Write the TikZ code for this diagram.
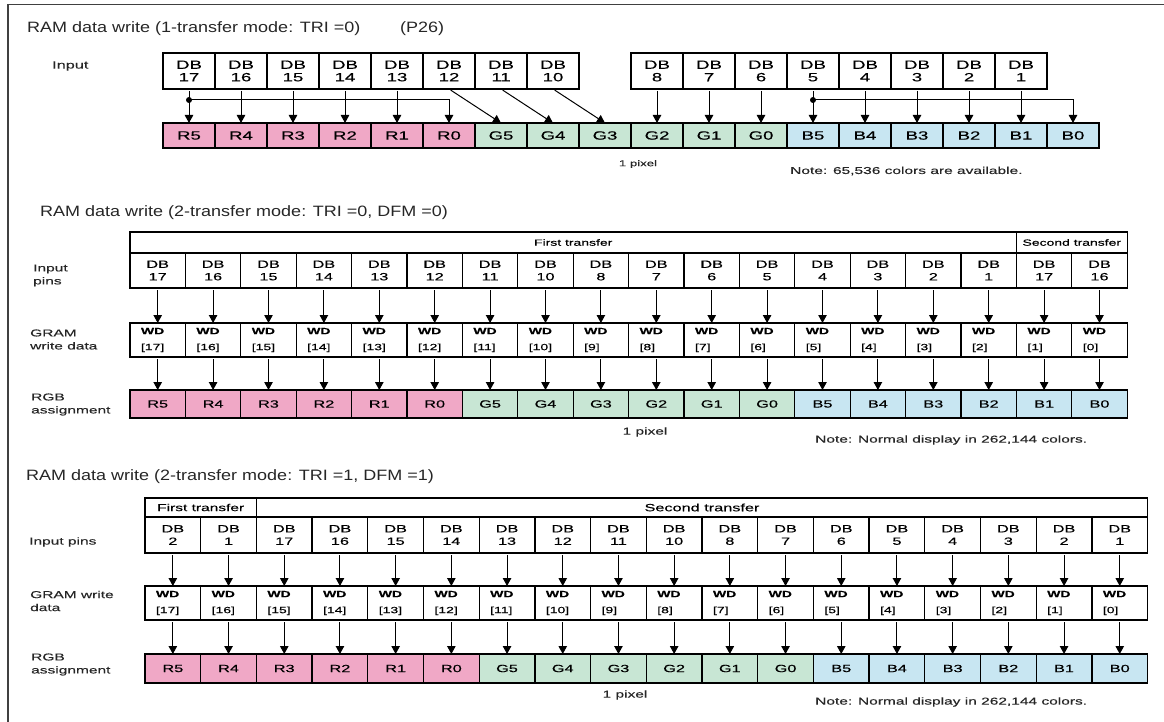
\documentclass[tikz,border=0pt]{standalone}
\usepackage{fontspec}
\setmainfont{Liberation Sans}
\newfontfamily\titlefont[FakeStretch=1.2]{Liberation Sans}
\newfontfamily\widefont[FakeStretch=1.55,FakeBold=0.3]{Liberation Sans}
\usetikzlibrary{arrows.meta,
                positioning}

\definecolor{redcell}{RGB}{240,168,198}
\definecolor{greencell}{RGB}{200,230,212}
\definecolor{bluecell}{RGB}{200,230,242}

\begin{document}
\begin{tikzpicture}%
            [x = 1pt, y = -1pt,
             box/.style = {draw, line width = 1.3pt, inner sep = 0pt, outer sep = 0pt, align = center},
             arr/.style = {-{Triangle[width = 8.5pt, length = 8pt]}, line width = 1pt, shorten < = 2pt},
             title/.style = {anchor = west, inner sep = 0pt, text = black!85, font = \titlefont\fontsize{15}{17}\selectfont},
             lab/.style = {anchor = west, inner sep = 0pt, align = left, text = black!85, font = \widefont\fontsize{10}{13}\selectfont},
             note/.style = {inner sep = 0pt, text = black!85, font = \widefont\fontsize{10}{12}\selectfont},
             pin/.style = {box, font = \widefont\fontsize{10.5}{12.5}\selectfont},
             wd/.style = {box, align = left, text width = #1, font = \widefont\fontsize{9}{16}\selectfont},
             hdr/.style = {box, font = \widefont\fontsize{9}{10}\selectfont}]
            \useasboundingbox (0,0) rectangle (1164,722);
            \draw [line width = 1.5pt, black!75] (8,722) -- (8,4.5) -- (1164,4.5);

            \foreach \s/\xo/\w/\yc/\h/\fs in {1/163/52/135.5/25/12, 2/130/55.4/404/28/10.5, 3/145/55.7/668.5/29/10.5}
              \foreach \col/\ch [count=\g from 0] in {redcell/R, greencell/G, bluecell/B}
                \foreach \n [count=\k from 0] in {5,4,...,0} {
                  \pgfmathtruncatemacro{\i}{6*\g+\k}
                  \node [box, fill = \col, minimum width = {\w*1pt}, minimum height = {\h*1pt},
                         font = \widefont\fontsize{\fs}{\fs}\selectfont] (rgb\s-\i) at ({\xo+(\i+0.5)*\w}, \yc) {\ch\n};
                }

            \node [title] (title1) at (27,29) {RAM data write (1-transfer mode: TRI =0)};
            \node [title] (page1) at (400,29) {(P26)};
            \node [lab, font = \widefont\fontsize{10.5}{13}\selectfont] (input1) at (52,66) {Input};
            \foreach \n [count=\i from 0] in {17,16,15,14,13,12,11,10}
              \node [pin, minimum width = 52pt, minimum height = 36pt, font = \widefont\fontsize{12}{12.5}\selectfont] (top1-\i) at ({163+(\i+0.5)*52}, 71) {DB\\\n};
            \foreach \n [count=\i from 9] in {8,7,6,5,4,3,2,1}
              \node [pin, minimum width = 52pt, minimum height = 36pt, font = \widefont\fontsize{12}{12.5}\selectfont] (top1-\i) at ({163+(\i+0.5)*52}, 71) {DB\\\n};
            \foreach \i in {0,1,2,3,4,9,10,11,12,13,14,15,16}
              \draw [arr] (top1-\i) -- (rgb1-\i);
            \foreach \i/\j in {5/6, 6/7, 7/8}
              \draw [arr] (top1-\i.south) -- (rgb1-\j.north);
            \path (top1-0.south) ++(0,11) coordinate (forkR);
            \path (top1-12.south) ++(0,11) coordinate (forkB);
            \fill (forkR) circle (3pt);
            \fill (forkB) circle (3pt);
            \draw [arr] (forkR) -| (rgb1-5);
            \draw [arr] (forkB) -| (rgb1-17);
            \node [note, font = \widefont\fontsize{8.5}{10}\selectfont] (pixel1) at (638,164) {1 pixel};
            \node [note, anchor = west] (colors1) at (790,171) {Note: 65,536 colors are available.};

            \node [title] (title2) at (40,213) {RAM data write (2-transfer mode: TRI =0, DFM =0)};
            \node [hdr, minimum width = {16*55.4pt}, minimum height = 21pt] (first2) at ({130+8*55.4}, 242.5) {First transfer};
            \node [hdr, minimum width = {2*55.4pt}, minimum height = 21pt] (second2) at ({130+17*55.4}, 242.5) {Second transfer};
            \foreach \n [count=\i from 0] in {17,16,15,14,13,12,11,10,8,7,6,5,4,3,2,1,17,16}
              \node [pin, minimum width = 55.4pt, minimum height = 35pt] (pin2-\i) at ({130+(\i+0.5)*55.4}, 270.5) {DB\\\n};
            \foreach \n [count=\i from 0] in {17,16,...,0}
              \node [wd = 33.4pt, minimum width = 55.4pt, minimum height = 34pt] (wd2-\i) at ({130+(\i+0.5)*55.4}, 340) {{\bfseries WD}\\{[\n]}};
            \foreach \i in {0,...,17} {
              \draw [arr] (pin2-\i) -- (wd2-\i);
              \draw [arr] (wd2-\i) -- (rgb2-\i);
            }
            \node [lab] (pins2) at (33,275.5) {Input\\pins};
            \node [lab] (gram2) at (30,339.5) {GRAM\\write data};
            \node [lab] (assign2) at (31,404.5) {RGB\\assignment};
            \node [note] (pixel2) at (645,432) {1 pixel};
            \node [note, anchor = west] (colors2) at (815,440) {Note: Normal display in 262,144 colors.};

            \node [title] (title3) at (26,477) {RAM data write (2-transfer mode: TRI =1, DFM =1)};
            \node [hdr, minimum width = {2*55.7pt}, minimum height = 19pt, font = \widefont\fontsize{10}{11}\selectfont] (first3) at ({145+1*55.7}, 507.5) {First transfer};
            \node [hdr, minimum width = {16*55.7pt}, minimum height = 19pt, font = \widefont\fontsize{10.5}{11}\selectfont] (second3) at ({145+10*55.7}, 507.5) {Second transfer};
            \foreach \n [count=\i from 0] in {2,1,17,16,15,14,13,12,11,10,8,7,6,5,4,3,2,1}
              \node [pin, minimum width = 55.7pt, minimum height = 36pt] (pin3-\i) at ({145+(\i+0.5)*55.7}, 535) {DB\\\n};
            \foreach \n [count=\i from 0] in {17,16,...,0}
              \node [wd = 33.7pt, minimum width = 55.7pt, minimum height = 34pt] (wd3-\i) at ({145+(\i+0.5)*55.7}, 603) {{\bfseries WD}\\{[\n]}};
            \foreach \i in {0,...,17} {
              \draw [arr] (pin3-\i) -- (wd3-\i);
              \draw [arr] (wd3-\i) -- (rgb3-\i);
            }
            \node [lab] (pins3) at (29,542) {Input pins};
            \node [lab] (gram3) at (30,601) {GRAM write\\data};
            \node [lab] (assign3) at (31,664.5) {RGB\\assignment};
            \node [note] (pixel3) at (625,695) {1 pixel};
            \node [note, anchor = west] (colors3) at (815,702) {Note: Normal display in 262,144 colors.};
        \end{tikzpicture}
\end{document}
